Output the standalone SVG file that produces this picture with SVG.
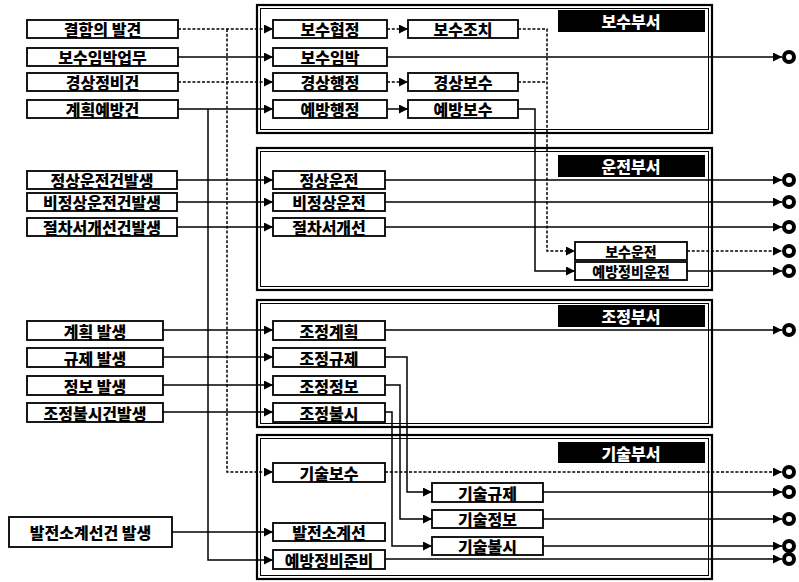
<svg xmlns="http://www.w3.org/2000/svg" width="799" height="582" viewBox="0 0 799 582">
<defs>
<style>
.bg{fill:#fff}
.dept-o{fill:#fff;stroke:#000;stroke-width:2.2}
.dept-i{fill:none;stroke:#000;stroke-width:1}
.hdr{fill:#000}
.hdr-t{fill:#fff;font-family:"Noto Sans CJK KR",sans-serif;font-weight:900;font-size:16px;text-anchor:middle;dominant-baseline:central}
.box{fill:#fff;stroke:#000;stroke-width:1.8}
.t{fill:#000;font-family:"Noto Sans CJK KR",sans-serif;font-weight:900;font-size:16px;text-anchor:middle;dominant-baseline:central}
.ts{font-size:14px}
.ln{fill:none;stroke:#000;stroke-width:1.5}
.dt{stroke-dasharray:3 1.8}
.arr{marker-end:url(#ah)}
.term{fill:#fff;stroke:#000;stroke-width:4}
</style>
<marker id="ah" markerUnits="userSpaceOnUse" markerWidth="9" markerHeight="9" refX="9" refY="4.5" orient="auto">
<path d="M0,0 L9,4.5 L0,9 z" fill="#000"/>
</marker>
</defs>
<rect class="bg" x="0" y="0" width="799" height="582"/>

<g id="dept-maintenance">
<rect class="dept-o" x="257" y="5" width="455" height="128"/>
<rect class="dept-i" x="260.5" y="8.5" width="448" height="121"/>
<rect class="hdr" x="558" y="10" width="147" height="22"/>
<text class="hdr-t" x="631" y="21">보수부서</text>
</g>
<g id="dept-operation">
<rect class="dept-o" x="257" y="148" width="455" height="142"/>
<rect class="dept-i" x="260.5" y="151.5" width="448" height="135"/>
<rect class="hdr" x="558" y="155" width="147" height="22"/>
<text class="hdr-t" x="631" y="166">운전부서</text>
</g>
<g id="dept-coordination">
<rect class="dept-o" x="257" y="300" width="455" height="127"/>
<rect class="dept-i" x="260.5" y="303.5" width="448" height="120"/>
<rect class="hdr" x="558" y="305" width="147" height="22"/>
<text class="hdr-t" x="631" y="316">조정부서</text>
</g>
<g id="dept-technical">
<rect class="dept-o" x="257" y="435" width="455" height="144"/>
<rect class="dept-i" x="260.5" y="438.5" width="448" height="137"/>
<rect class="hdr" x="558" y="442" width="147" height="21"/>
<text class="hdr-t" x="631" y="452.5">기술부서</text>
</g>

<g id="connectors">
<path class="ln dt arr" d="M178,29 H273"/>
<path class="ln arr" d="M178,57 H273"/>
<path class="ln dt arr" d="M178,82 H273"/>
<path class="ln arr" d="M178,109 H273"/>
<path class="ln dt arr" d="M227,29 V472 H273"/>
<path class="ln arr" d="M208,109 V560 H273"/>
<path class="ln dt arr" d="M387,29 H408"/>
<path class="ln dt arr" d="M387,82 H408"/>
<path class="ln arr" d="M387,109 H408"/>
<path class="ln arr" d="M387,57 H782"/>
<path class="ln dt arr" d="M518,29 H547 V251 H575"/>
<path class="ln dt" d="M518,82 H547"/>
<path class="ln arr" d="M518,109 H535 V271 H575"/>
<path class="ln arr" d="M177,180 H273"/>
<path class="ln arr" d="M177,202 H273"/>
<path class="ln arr" d="M177,227 H273"/>
<path class="ln arr" d="M385,180 H782"/>
<path class="ln arr" d="M385,202 H782"/>
<path class="ln arr" d="M385,227 H782"/>
<path class="ln dt arr" d="M687,251 H782"/>
<path class="ln arr" d="M687,271 H782"/>
<path class="ln arr" d="M163,330 H273"/>
<path class="ln arr" d="M163,357 H273"/>
<path class="ln arr" d="M163,385 H273"/>
<path class="ln arr" d="M163,412 H273"/>
<path class="ln arr" d="M385,330 H782"/>
<path class="ln arr" d="M385,357 H407 V492 H432"/>
<path class="ln arr" d="M385,385 H400 V519 H432"/>
<path class="ln arr" d="M385,412 H392 V546 H432"/>
<path class="ln arr" d="M172,532 H273"/>
<path class="ln dt arr" d="M385,472 H782"/>
<path class="ln arr" d="M543,492 H782"/>
<path class="ln arr" d="M543,519 H782"/>
<path class="ln arr" d="M543,546 H782"/>
<path class="ln arr" d="M385,559 H782"/>
</g>

<g id="terminals">
<circle class="term" cx="789" cy="57" r="5"/>
<circle class="term" cx="789" cy="180" r="5"/>
<circle class="term" cx="789" cy="202" r="5"/>
<circle class="term" cx="789" cy="227" r="5"/>
<circle class="term" cx="789" cy="251" r="5"/>
<circle class="term" cx="789" cy="271" r="5"/>
<circle class="term" cx="789" cy="330" r="5"/>
<circle class="term" cx="789" cy="472" r="5"/>
<circle class="term" cx="789" cy="492" r="5"/>
<circle class="term" cx="789" cy="519" r="5"/>
<circle class="term" cx="789" cy="546" r="5"/>
<circle class="term" cx="789" cy="559" r="5"/>
</g>

<g id="in-defect"><rect class="box" x="27" y="20" width="151" height="18"/><text class="t" x="102.5" y="29">결함의 발견</text></g>
<g id="in-imminent"><rect class="box" x="27" y="48" width="151" height="18"/><text class="t" x="102.5" y="57">보수임박업무</text></g>
<g id="in-routine"><rect class="box" x="27" y="73" width="151" height="18"/><text class="t" x="102.5" y="82">경상정비건</text></g>
<g id="in-planned"><rect class="box" x="27" y="100" width="151" height="18"/><text class="t" x="102.5" y="109">계획예방건</text></g>
<g id="in-normal"><rect class="box" x="27" y="171" width="150" height="18"/><text class="t" x="102" y="180">정상운전건발생</text></g>
<g id="in-abnormal"><rect class="box" x="27" y="193" width="150" height="18"/><text class="t" x="102" y="202">비정상운전건발생</text></g>
<g id="in-procedure"><rect class="box" x="27" y="218" width="150" height="18"/><text class="t" x="102" y="227">절차서개선건발생</text></g>
<g id="in-plan"><rect class="box" x="27" y="321" width="136" height="19"/><text class="t" x="95" y="330.5">계획 발생</text></g>
<g id="in-reg"><rect class="box" x="27" y="348" width="136" height="19"/><text class="t" x="95" y="357.5">규제 발생</text></g>
<g id="in-info"><rect class="box" x="27" y="376" width="136" height="19"/><text class="t" x="95" y="385.5">정보 발생</text></g>
<g id="in-trip"><rect class="box" x="27" y="403" width="136" height="19"/><text class="t" x="95" y="412.5">조정불시건발생</text></g>
<g id="in-plant"><rect class="box" x="9" y="517" width="163" height="30"/><text class="t" x="90.5" y="532">발전소계선건 발생</text></g>

<g id="n-maint-agree"><rect class="box" x="273" y="20" width="114" height="18"/><text class="t" x="330" y="29">보수협정</text></g>
<g id="n-maint-action"><rect class="box" x="408" y="20" width="110" height="18"/><text class="t" x="463" y="29">보수조치</text></g>
<g id="n-maint-imminent"><rect class="box" x="273" y="48" width="114" height="18"/><text class="t" x="330" y="57">보수임박</text></g>
<g id="n-routine-admin"><rect class="box" x="273" y="73" width="114" height="18"/><text class="t" x="330" y="82">경상행정</text></g>
<g id="n-routine-maint"><rect class="box" x="408" y="73" width="110" height="18"/><text class="t" x="463" y="82">경상보수</text></g>
<g id="n-prev-admin"><rect class="box" x="273" y="100" width="114" height="18"/><text class="t" x="330" y="109">예방행정</text></g>
<g id="n-prev-maint"><rect class="box" x="408" y="100" width="110" height="18"/><text class="t" x="463" y="109">예방보수</text></g>

<g id="n-normal-op"><rect class="box" x="273" y="171" width="112" height="18"/><text class="t" x="329" y="180">정상운전</text></g>
<g id="n-abnormal-op"><rect class="box" x="273" y="193" width="112" height="18"/><text class="t" x="329" y="202">비정상운전</text></g>
<g id="n-procedure"><rect class="box" x="273" y="218" width="112" height="18"/><text class="t" x="329" y="227">절차서개선</text></g>
<g id="n-maint-op"><rect class="box" x="575" y="242" width="112" height="18"/><text class="t ts" x="631" y="251">보수운전</text></g>
<g id="n-prev-op"><rect class="box" x="575" y="262" width="112" height="18"/><text class="t ts" x="631" y="271">예방정비운전</text></g>

<g id="n-coord-plan"><rect class="box" x="273" y="321" width="112" height="19"/><text class="t" x="329" y="330.5">조정계획</text></g>
<g id="n-coord-reg"><rect class="box" x="273" y="348" width="112" height="19"/><text class="t" x="329" y="357.5">조정규제</text></g>
<g id="n-coord-info"><rect class="box" x="273" y="376" width="112" height="19"/><text class="t" x="329" y="385.5">조정정보</text></g>
<g id="n-coord-trip"><rect class="box" x="273" y="403" width="112" height="19"/><text class="t" x="329" y="412.5">조정불시</text></g>

<g id="n-tech-maint"><rect class="box" x="273" y="463" width="112" height="19"/><text class="t" x="329" y="472.5">기술보수</text></g>
<g id="n-tech-reg"><rect class="box" x="432" y="483" width="111" height="19"/><text class="t" x="487.5" y="492.5">기술규제</text></g>
<g id="n-tech-info"><rect class="box" x="432" y="510" width="111" height="18"/><text class="t" x="487.5" y="519">기술정보</text></g>
<g id="n-tech-trip"><rect class="box" x="432" y="537" width="111" height="18"/><text class="t" x="487.5" y="546">기술불시</text></g>
<g id="n-plant"><rect class="box" x="273" y="523" width="112" height="18"/><text class="t" x="329" y="532">발전소계선</text></g>
<g id="n-prev-prep"><rect class="box" x="273" y="550" width="112" height="19"/><text class="t" x="329" y="559.5">예방정비준비</text></g>
</svg>
